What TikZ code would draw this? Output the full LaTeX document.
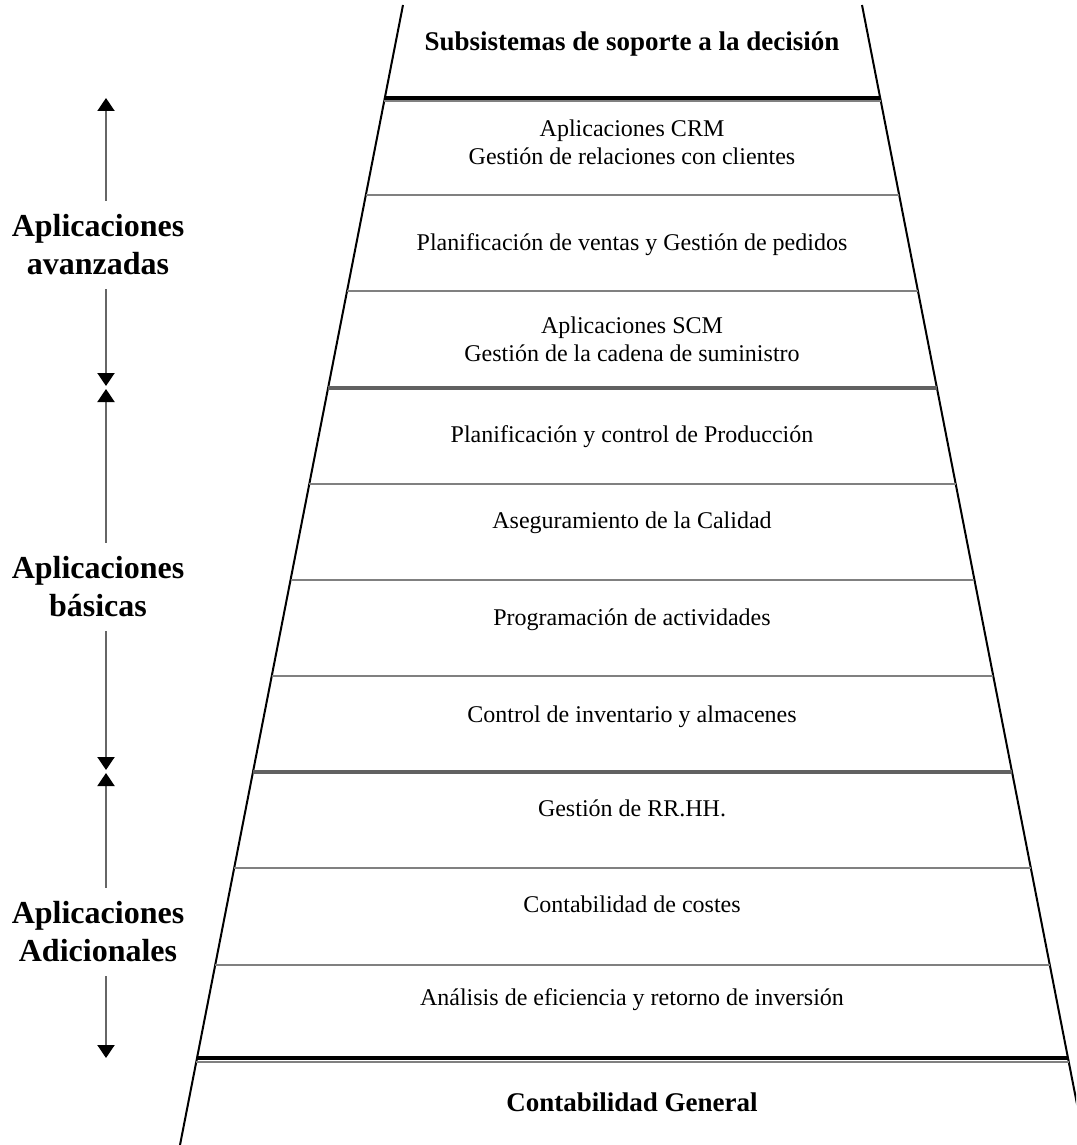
\documentclass[tikz,border=0pt]{standalone}
\usepackage{fontspec}
\setmainfont{Liberation Serif}
\usetikzlibrary{calc,arrows.meta}

\begin{document}
\begin{tikzpicture}[x=0.5pt,y=-0.5pt]
    \tikzset{
        side/.style={line width=1pt,black},
        rung/.style={line width=1.3pt,black!50},
        bigrung/.style={line width=1.9pt,black!62},
        edgerung/.style={line width=1.6pt,black},
        level/.style={font=\fontsize{12}{14}\selectfont,align=center,inner sep=0pt},
        boldlevel/.style={font=\fontsize{13.5}{16}\selectfont\bfseries,inner sep=0pt},
        group/.style={font=\fontsize{16}{19}\selectfont\bfseries,align=center,fill=white,inner xsep=2pt,inner ysep=7pt},
        span/.style={line width=1pt,black!60,
            {Triangle[width=8.5pt,length=6.5pt,color=black]}-{Triangle[width=8.5pt,length=6.5pt,color=black]}}
    }
    \useasboundingbox (0,0) rectangle (1076,1145);
    \clip (0,0) rectangle (1076,1145);

    \coordinate (TL) at (403,5);
    \coordinate (BL) at (180,1145);
    \coordinate (TR) at (862,5);
    \coordinate (BR) at (1085,1145);
    \draw[side] (TL) -- (BL);
    \draw[side] (TR) -- (BR);

    % rungs of the ladder
    \foreach \y in {195,291,484,580,676,868,965}
        \draw[rung] ($(TL)!{(\y-5)/1140}!(BL)$) -- ($(TR)!{(\y-5)/1140}!(BR)$);
    \foreach \y in {388,772}
        \draw[bigrung] ($(TL)!{(\y-5)/1140}!(BL)$) -- ($(TR)!{(\y-5)/1140}!(BR)$);
    \foreach \y in {98,1058}{
        \draw[edgerung] ($(TL)!{(\y-5)/1140}!(BL)$) -- ($(TR)!{(\y-5)/1140}!(BR)$);
        \draw[rung,line width=1pt] ($(TL)!{(\y-1.5)/1140}!(BL)$) -- ($(TR)!{(\y-1.5)/1140}!(BR)$);
    }

    \node[boldlevel] (dss) at (632,44) {Subsistemas de soporte a la decisión};
    \node[level] (crm) at (632,142) {Aplicaciones CRM\\Gestión de relaciones con clientes};
    \node[level] (ventas) at (632,245) {Planificación de ventas y Gestión de pedidos};
    \node[level] (scm) at (632,339) {Aplicaciones SCM\\Gestión de la cadena de suministro};
    \node[level] (prod) at (632,437) {Planificación y control de Producción};
    \node[level] (calidad) at (632,523) {Aseguramiento de la Calidad};
    \node[level] (activ) at (632,620) {Programación de actividades};
    \node[level] (invent) at (632,717) {Control de inventario y almacenes};
    \node[level] (rrhh) at (632,808) {Gestión de RR.HH.};
    \node[level] (costes) at (632,904) {Contabilidad de costes};
    \node[level] (roi) at (632,1000) {Análisis de eficiencia y retorno de inversión};
    \node[boldlevel] (general) at (632,1102) {Contabilidad General};

    % groups on the left
    \coordinate (a1) at (106,98);
    \coordinate (a2) at (106,386);
    \coordinate (b1) at (106,389);
    \coordinate (b2) at (106,770);
    \coordinate (c1) at (106,773);
    \coordinate (c2) at (106,1058);
    \draw[span] (a1) -- (a2);
    \draw[span] (b1) -- (b2);
    \draw[span] (c1) -- (c2);
    \node[group] (avanz) at (98,245) {Aplicaciones\\avanzadas};
    \node[group] (basic) at (98,587) {Aplicaciones\\básicas};
    \node[group] (adic) at (98,932) {Aplicaciones\\Adicionales};
\end{tikzpicture}
\end{document}
